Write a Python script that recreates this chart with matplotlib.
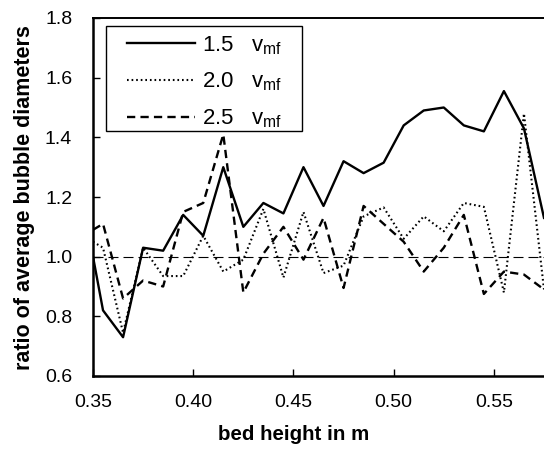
import matplotlib
matplotlib.use("Agg")
import matplotlib.pyplot as plt
from matplotlib.patches import Rectangle

plt.rcParams['font.family'] = ['Liberation Sans', 'DejaVu Sans']
plt.rcParams['mathtext.fontset'] = 'custom'
plt.rcParams['mathtext.rm'] = 'Liberation Sans'

bed_height = [0.35, 0.355, 0.365, 0.375, 0.385, 0.395, 0.405, 0.415, 0.425, 0.435,
              0.445, 0.455, 0.465, 0.475, 0.485, 0.495, 0.505, 0.515, 0.525, 0.535,
              0.545, 0.555, 0.565, 0.575]
ratio_15 = [1.00, 0.82, 0.73, 1.03, 1.02, 1.14, 1.07, 1.30, 1.10, 1.18,
            1.145, 1.30, 1.17, 1.32, 1.28, 1.315, 1.44, 1.49, 1.50, 1.44,
            1.42, 1.555, 1.43, 1.13]
ratio_20 = [1.05, 1.03, 0.745, 1.03, 0.935, 0.935, 1.07, 0.95, 0.99, 1.16,
            0.93, 1.15, 0.945, 0.97, 1.135, 1.165, 1.06, 1.135, 1.085, 1.18,
            1.167, 0.88, 1.48, 0.89]
ratio_25 = [1.09, 1.11, 0.86, 0.92, 0.90, 1.15, 1.18, 1.41, 0.88, 1.01,
            1.10, 0.99, 1.13, 0.895, 1.17, 1.11, 1.05, 0.95, 1.03, 1.14,
            0.875, 0.95, 0.94, 0.89]
labels = ["1.5", "2.0", "2.5"]
xticks = [0.35, 0.40, 0.45, 0.50, 0.55]
yticks = [0.6, 0.8, 1.0, 1.2, 1.4, 1.6, 1.8]

W, H = 544, 449
fig = plt.figure(figsize=(W/100, H/100), dpi=100)
ax_l, ax_t, ax_b = 93, 18, 376
ax = fig.add_axes([ax_l/W, 1 - ax_b/H, 1 - ax_l/W, (ax_b - ax_t)/H])
ax_w, ax_h = W - ax_l, ax_b - ax_t

def axfrac(px, py):
    return (px - ax_l)/ax_w, (ax_b - py)/ax_h

sub = r"$\mathregular{v_{mf}}$"
ax.plot(bed_height, ratio_15, color='black', lw=1.7, ls='-',
        label=f"{labels[0]}   {sub}")
ax.plot(bed_height, ratio_20, color='black', lw=1.5, ls=(0, (0.8, 1.4)),
        label=f"{labels[1]}   {sub}")
ax.plot(bed_height, ratio_25, color='black', lw=1.7, ls=(0, (3.5, 2.2)),
        label=f"{labels[2]}   {sub}")
ax.axhline(1.0, color='black', lw=0.8, ls=(0, (9, 4.5)), zorder=1)

ax.set_xlim(0.35, 0.575)
ax.set_ylim(0.6, 1.8)
ax.set_xticks(xticks)
ax.set_xticklabels([f"{v:.2f}" for v in xticks])
ax.set_yticks(yticks)
ax.set_yticklabels([f"{v:.1f}" for v in yticks])
ax.tick_params(direction='in', length=5, width=1, labelsize=14, pad=13)
ax.tick_params(axis='y', pad=15)

ax.spines['right'].set_visible(False)
ax.spines['left'].set_linewidth(1.8)
ax.spines['bottom'].set_linewidth(1.8)
ax.spines['top'].set_linewidth(1.4)

ax.set_xlabel("bed height in m", fontsize=14.8, fontweight='bold')
ax.xaxis.set_label_coords(axfrac(293.5, 0)[0], axfrac(0, 435)[1])
ax.xaxis.label.set_va('center')
ax.set_ylabel("ratio of average bubble diameters", fontsize=15.5, fontweight='bold')
ax.yaxis.set_label_coords(axfrac(25, 0)[0], axfrac(0, 198)[1])
ax.yaxis.label.set_va('center')

# legend frame
x0, y0 = axfrac(106, 131)
x1, y1 = axfrac(302, 26)
ax.add_patch(Rectangle((x0, y0), x1 - x0, y1 - y0, transform=ax.transAxes,
                       facecolor='white', edgecolor='black', lw=1.0, zorder=4))
lx, ly = axfrac(127, 34)
leg = ax.legend(loc='upper left', bbox_to_anchor=(lx, ly), borderaxespad=0,
                fontsize=16, handlelength=3.06, handletextpad=0.3, labelspacing=0.64,
                frameon=False, borderpad=0)
leg.set_zorder(5)

fig.savefig("out.png", dpi=100)
